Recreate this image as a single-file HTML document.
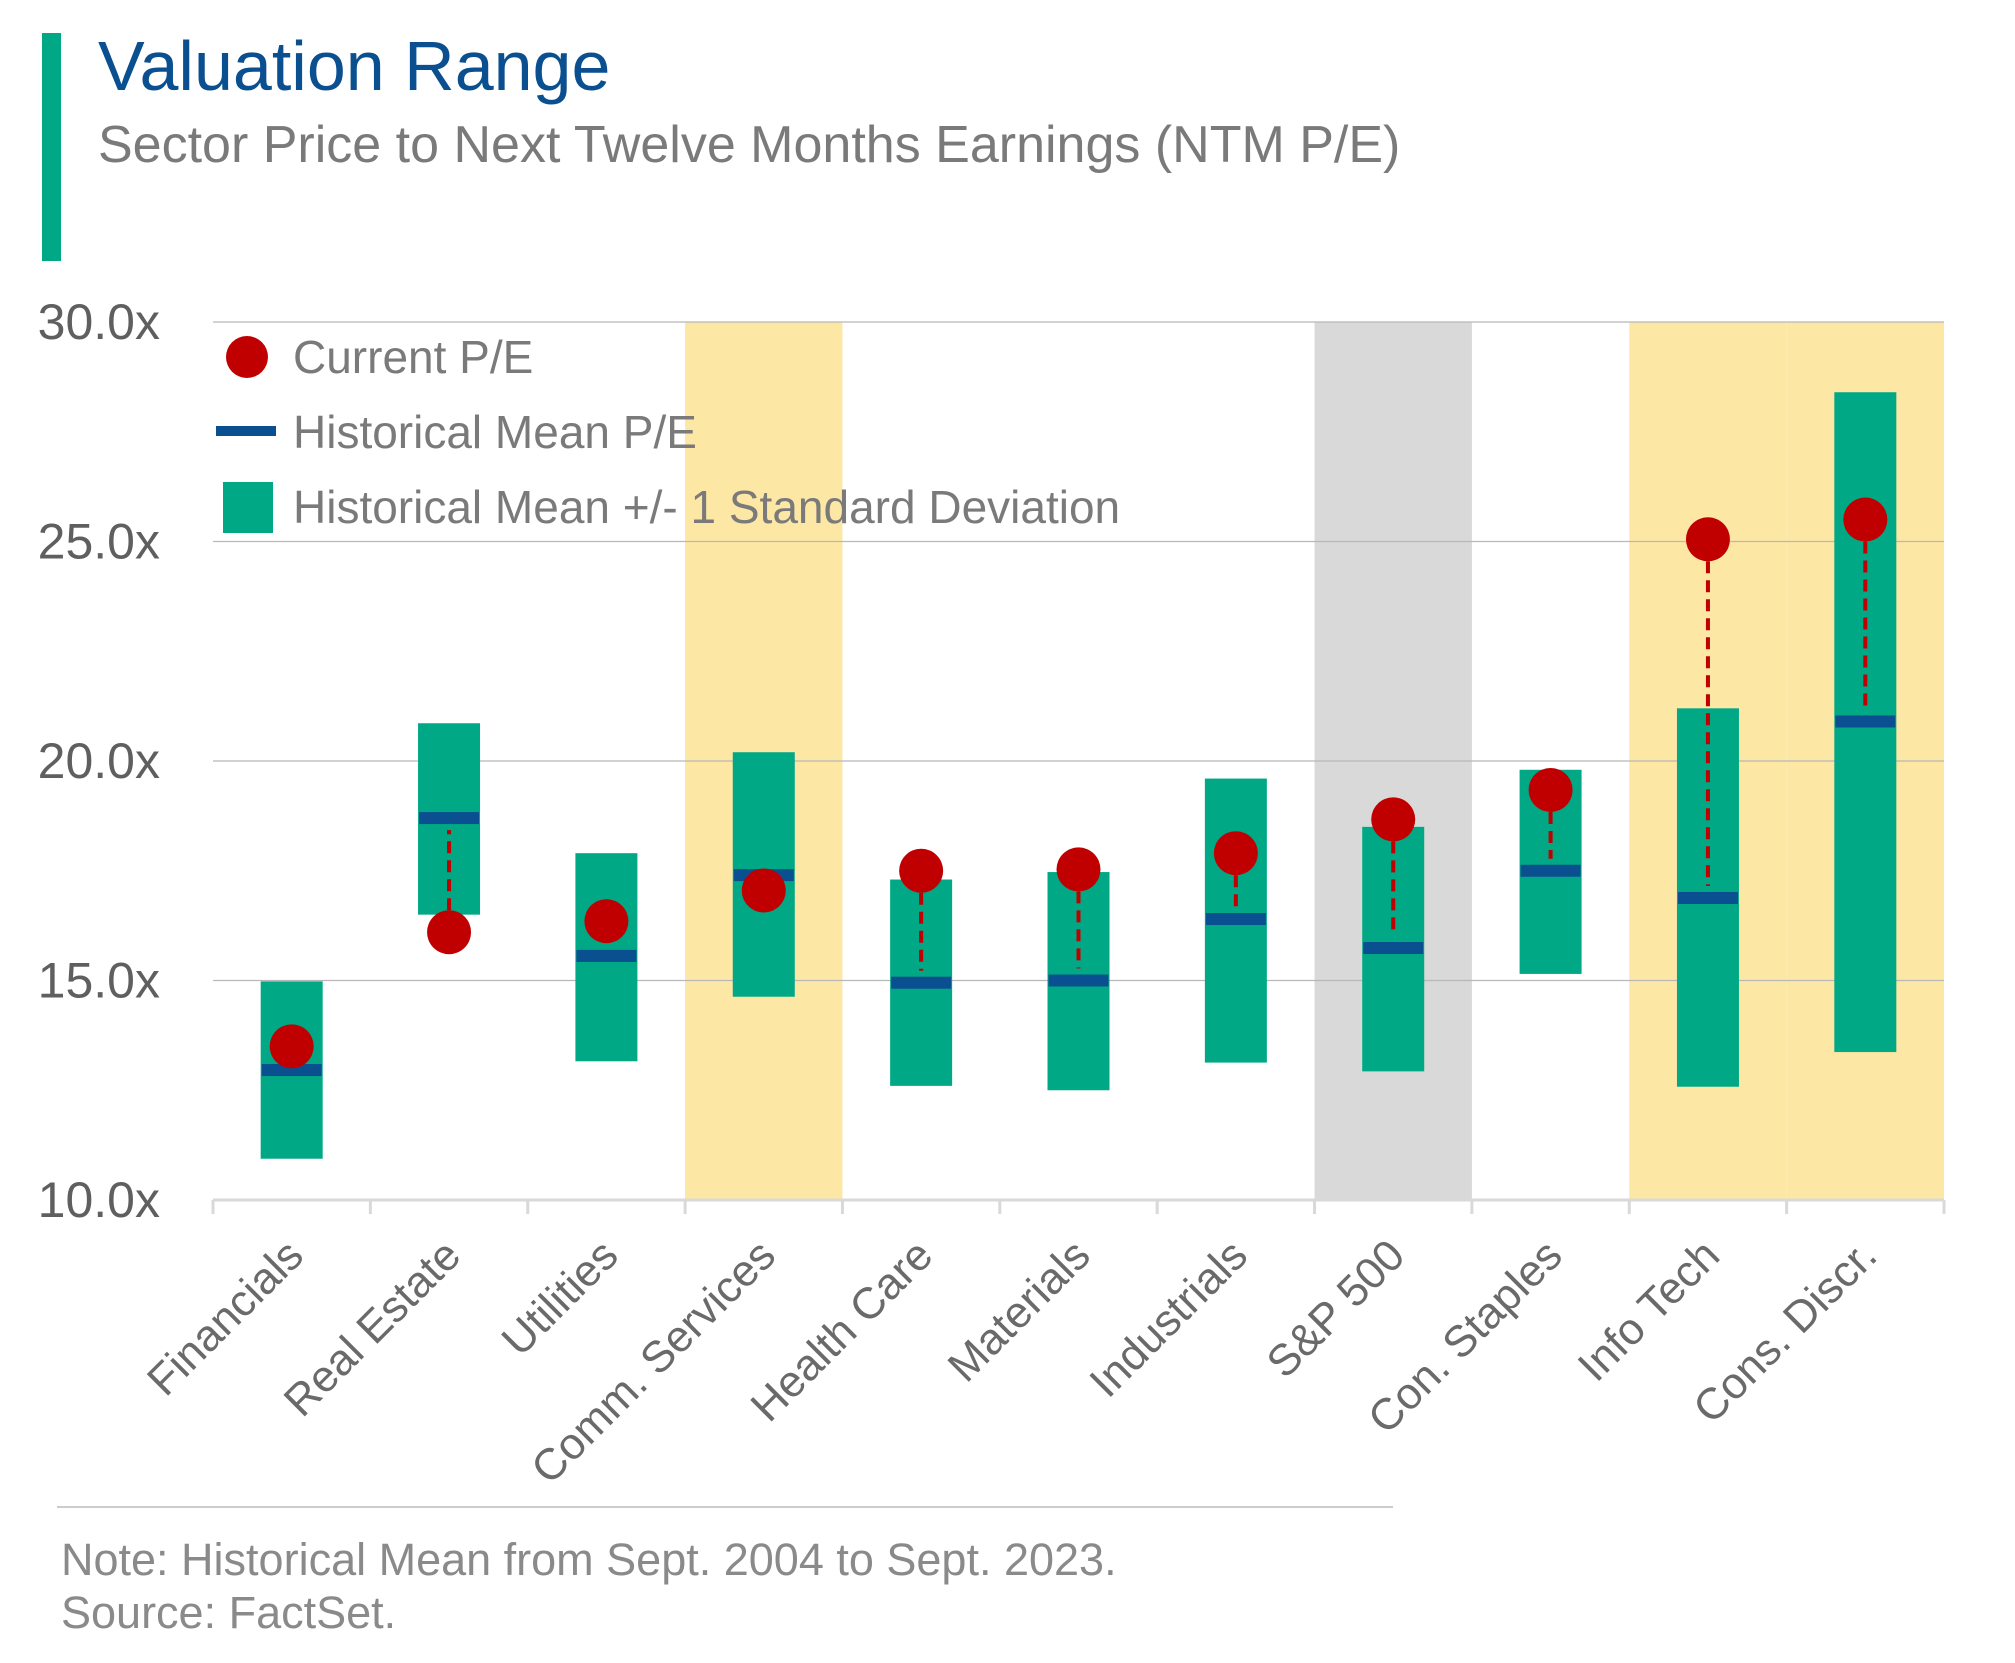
<!DOCTYPE html>
<html><head><meta charset="utf-8"><style>
html,body{margin:0;padding:0;background:#fff;}
svg{display:block;font-family:"Liberation Sans",sans-serif;}
</style></head><body>
<svg id="chart" width="2015" height="1663" viewBox="0 0 2015 1663" xmlns="http://www.w3.org/2000/svg">
<rect x="42" y="33" width="19" height="228" fill="#00a886"/>
<text x="98" y="90" font-size="70" fill="#0a4f8f">Valuation Range</text>
<text x="98" y="162" font-size="52" fill="#7a7a7a">Sector Price to Next Twelve Months Earnings (NTM P/E)</text>
<g id="shade"></g>
<g id="grid"></g>
<g id="marks"></g>
<g id="axes"></g>
<g>
<circle cx="247" cy="357" r="21" fill="#c00000"/>
<text x="293" y="373" font-size="46" fill="#7a7a7a">Current P/E</text>
<rect x="216" y="426" width="60" height="10" fill="#0a4f8f"/>
<text x="293" y="448" font-size="46" fill="#7a7a7a">Historical Mean P/E</text>
<rect x="223" y="482" width="50" height="51" fill="#00a886"/>
<text x="293" y="523" font-size="46" fill="#7a7a7a">Historical Mean +/- 1 Standard Deviation</text>
</g>
<line x1="57" y1="1507" x2="1393" y2="1507" stroke="#cccccc" stroke-width="2"/>
<text x="61" y="1575" font-size="45" fill="#8a8a8a">Note: Historical Mean from Sept. 2004 to Sept. 2023.</text>
<text x="61" y="1628" font-size="45" fill="#8a8a8a">Source: FactSet.</text>
</svg>
<script>
const categories=["Financials","Real Estate","Utilities","Comm. Services","Health Care","Materials","Industrials","S&P 500","Con. Staples","Info Tech","Cons. Discr."];
const highValues=[14.98,20.86,17.9,20.2,17.3,17.47,19.6,18.5,19.8,21.2,28.4];
const lowValues=[10.94,16.5,13.16,14.63,12.6,12.5,13.13,12.93,15.15,12.58,13.37];
const meanValues=[12.96,18.7,15.56,17.4,14.95,15.0,16.4,15.74,17.5,16.88,20.9];
const currentValues=[13.5,16.1,16.35,17.05,17.5,17.53,17.9,18.67,19.34,25.05,25.5];
const shadeColors=[null,null,null,"#fde7a5",null,null,null,"#d9d9d9",null,"#fde7a5","#fde7a5"];
const yTicks=[10,15,20,25,30];
const yTickLabels=["10.0x","15.0x","20.0x","25.0x","30.0x"];

const NS="http://www.w3.org/2000/svg";
const L=213,R=1944,T=322,B=1200,yMin=10,yMax=30;
const cw=(R-L)/categories.length;
const xc=i=>L+cw*(i+0.5);
const y=v=>B-(v-yMin)/(yMax-yMin)*(B-T);
function mk(tag,attrs,parent){const e=document.createElementNS(NS,tag);for(const k in attrs)e.setAttribute(k,attrs[k]);parent.appendChild(e);return e;}
const shade=document.getElementById('shade'),grid=document.getElementById('grid'),marks=document.getElementById('marks'),axes=document.getElementById('axes');

shadeColors.forEach((c,i)=>{if(!c)return;
 const r=mk('rect',{x:L+cw*i,y:T,width:cw,height:B-T,fill:c},shade);
 
 
});
yTicks.forEach((t,i)=>{
 if(t!==yMin){const g=mk('line',{x1:L,x2:R,y1:y(t),y2:y(t),stroke:'#b8b8b8','stroke-width':1.3},grid);
 
 }
 const tx=mk('text',{x:160,y:y(t)+17,'font-size':50,fill:'#5f5f5f','text-anchor':'end'},axes);
 tx.textContent=yTickLabels[i];
 
 
});
const ax=mk('line',{x1:L,x2:R,y1:B,y2:B,stroke:'#d9d9d9','stroke-width':3},axes);


for(let i=0;i<=categories.length;i++){
 const t=mk('line',{x1:L+cw*i,x2:L+cw*i,y1:B,y2:B+14,stroke:'#d9d9d9','stroke-width':3},axes);
 
 
}
categories.forEach((c,i)=>{
 const cx=xc(i);
 const bx=mk('rect',{x:cx-31,y:y(highValues[i]),width:62,height:y(lowValues[i])-y(highValues[i]),fill:'#00a886'},marks);
 
 
 const mn=mk('rect',{x:cx-30,y:y(meanValues[i])-6,width:60,height:12,fill:'#0a4f8f'},marks);
 
 
 const d=currentValues[i]-meanValues[i];
 if(Math.abs(d)>1){
  const s=Math.sign(d);
  const ln=mk('line',{x1:cx,x2:cx,y1:y(currentValues[i])+s*22,y2:y(meanValues[i])-s*12,stroke:'#c00000','stroke-width':4,'stroke-dasharray':'12 7'},marks);
  
  
 }
 const dot=mk('circle',{cx:cx,cy:y(currentValues[i]),r:22,fill:'#c00000'},marks);
 
 
 const lb=mk('text',{x:cx+14,y:1258,'font-size':44,fill:'#6a6a6a','text-anchor':'end',transform:`rotate(-45 ${cx+14} 1258)`},axes);
 lb.textContent=c;
 
 
});
</script>
</body></html>
